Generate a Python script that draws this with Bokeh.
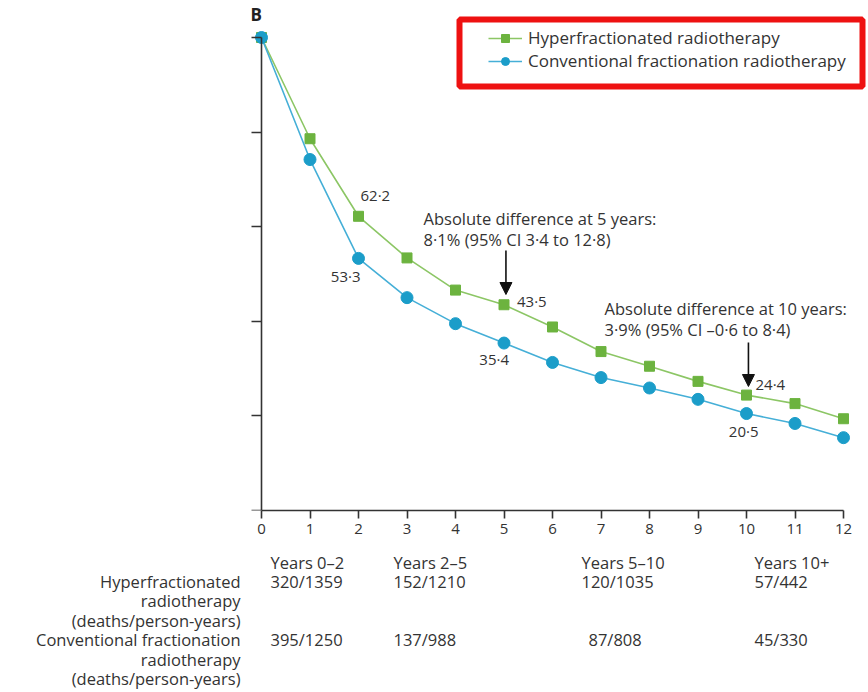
from bokeh.plotting import figure
from bokeh.models import (Range1d, Legend, LegendItem, Label, Arrow, NormalHead,
                          BoxAnnotation, ColumnDataSource, FixedTicker, CustomJSTickFormatter)
from bokeh.layouts import column
from bokeh.embed import file_html
from bokeh.resources import INLINE
from bokeh.core.properties import value

# ---------------- data ----------------
years = list(range(13))
hyper = [100, 78.6, 62.2, 53.4, 46.6, 43.5, 38.8, 33.6, 30.5, 27.3, 24.4, 22.6, 19.4]
conv = [100, 74.2, 53.3, 45.0, 39.5, 35.4, 31.3, 28.1, 25.9, 23.5, 20.5, 18.4, 15.4]
y_ticks = [0, 20, 40, 60, 80, 100]

hyper_label_years = [2, 5, 10]
hyper_label_text = ["62·2", "43·5", "24·4"]
conv_label_years = [2, 5, 10]
conv_label_text = ["53·3", "35·4", "20·5"]

series_names = ["Hyperfractionated radiotherapy", "Conventional fractionation radiotherapy"]
diff5_lines = ["Absolute difference at 5 years:", "8·1% (95% CI 3·4 to 12·8)"]
diff10_lines = ["Absolute difference at 10 years:", "3·9% (95% CI –0·6 to 8·4)"]

periods = ["Years 0–2", "Years 2–5", "Years 5–10", "Years 10+"]
hyper_counts = ["320/1359", "152/1210", "120/1035", "57/442"]
conv_counts = ["395/1250", "137/988", "87/808", "45/330"]
row_label_hyper = ["Hyperfractionated", "radiotherapy", "(deaths/person-years)"]
row_label_conv = ["Conventional fractionation", "radiotherapy", "(deaths/person-years)"]

# ---------------- layout constants ----------------
W = 868
H1, H2 = 550, 142
X0_PX, PX_PER_YEAR = 261, 48.5          # x=0 at 261px
Y0_PX, PX_PER_UNIT = 510, 4.73          # y=0 at 510px
FRAME_L, FRAME_R, FRAME_T = 24, 866, 5

def xd(px):
    return (px - X0_PX) / PX_PER_YEAR

def yd(py):
    return (Y0_PX - py) / PX_PER_UNIT

FONT = "Open Sans"
TXT = "#333333"
GREEN, GREEN_LINE = "#6cb33f", "#8cc665"
BLUE, BLUE_LINE = "#1b9dc9", "#45afd7"

p = figure(width=W, height=H1, output_backend="svg", toolbar_location=None,
           x_range=Range1d(xd(FRAME_L), xd(FRAME_R)),
           y_range=Range1d(0, yd(FRAME_T)),
           min_border_left=FRAME_L, min_border_right=W - FRAME_R,
           min_border_top=FRAME_T, min_border_bottom=H1 - Y0_PX)
p.outline_line_color = None
p.grid.visible = False
p.background_fill_color = "white"
p.border_fill_color = "white"

# axes
p.xaxis.ticker = FixedTicker(ticks=years)
p.xaxis.bounds = (0, 12)
p.xaxis.major_tick_out = 8
p.xaxis.major_tick_in = 0
p.xaxis.minor_tick_line_color = None
p.xaxis.axis_line_color = "#333333"
p.xaxis.axis_line_width = 1.6
p.xaxis.major_tick_line_color = "#333333"
p.xaxis.major_tick_line_width = 1.6
p.xaxis.major_label_text_font = FONT
p.xaxis.major_label_text_font_size = "15px"
p.xaxis.major_label_text_color = TXT
p.xaxis.major_label_standoff = 5

p.yaxis.ticker = FixedTicker(ticks=y_ticks)
p.yaxis.bounds = (0, 100)
p.yaxis.fixed_location = 0
p.yaxis.major_tick_out = 10
p.yaxis.major_tick_in = 0
p.yaxis.major_label_standoff = 0
p.yaxis.minor_tick_line_color = None
p.yaxis.axis_line_color = "#333333"
p.yaxis.axis_line_width = 1.6
p.yaxis.major_tick_line_color = "#333333"
p.yaxis.major_tick_line_width = 1.6
p.yaxis.formatter = CustomJSTickFormatter(code="return ''")

# series
hl = p.line(years, hyper, line_color=GREEN_LINE, line_width=1.6)
hs = p.scatter(years, hyper, marker="square", size=10, fill_color=GREEN, line_color=GREEN)
cl = p.line(years, conv, line_color=BLUE_LINE, line_width=1.6)
cs = p.scatter(years, conv, marker="circle", size=12, fill_color=BLUE, line_color=BLUE)

# value labels
h_src = ColumnDataSource(dict(
    x=hyper_label_years,
    y=[hyper[i] for i in hyper_label_years],
    text=hyper_label_text,
    xo=[2, 13, 9], yo=[-21, -4, -11]))
p.text(x="x", y="y", text="text", x_offset="xo", y_offset="yo", source=h_src,
       text_align="left", text_baseline="middle", text_font=value(FONT),
       text_font_size="15px", text_color=TXT)
c_src = ColumnDataSource(dict(
    x=conv_label_years,
    y=[conv[i] for i in conv_label_years],
    text=conv_label_text,
    xo=[2, 5, 12], yo=[18, 16, 17]))
p.text(x="x", y="y", text="text", x_offset="xo", y_offset="yo", source=c_src,
       text_align="right", text_baseline="middle", text_font=value(FONT),
       text_font_size="15px", text_color=TXT)

# difference annotations
for lines, left_px, top_py in [(diff5_lines, 423, 218), (diff10_lines, 604, 308)]:
    for i, t in enumerate(lines):
        p.add_layout(Label(x=xd(left_px), y=yd(top_py + 21 * i), text=t,
                           text_align="left", text_baseline="middle",
                           text_font=FONT, text_font_size="16.5px", text_color=TXT))

for yr, y0_px, y1_px in [(5, 250, 294), (10, 342, 386)]:
    p.add_layout(Arrow(x_start=yr + 0.04, y_start=yd(y0_px), x_end=yr + 0.04, y_end=yd(y1_px),
                       line_color="#111111", line_width=1.6,
                       end=NormalHead(size=12, fill_color="#111111", line_color="#111111")))

# panel letter
p.add_layout(Label(x=xd(250), y=yd(14), text="B", text_align="left", text_baseline="middle",
                   text_font=FONT, text_font_size="17px", text_font_style="bold",
                   text_color="#222222"))

# legend with red highlight box
p.add_layout(BoxAnnotation(left=xd(459), right=xd(862), top=yd(19), bottom=yd(86),
                           fill_alpha=0, line_color="#ee1111", line_alpha=1, line_width=6))
legend = Legend(items=[LegendItem(label=series_names[0], renderers=[hl, hs]),
                       LegendItem(label=series_names[1], renderers=[cl, cs])],
                location=(488 - FRAME_L, Y0_PX - 72), padding=0, spacing=0, margin=0,
                glyph_width=34, glyph_height=20, label_height=20, label_standoff=6,
                label_text_font=FONT, label_text_font_size="17px", label_text_color=TXT,
                background_fill_alpha=0, border_line_color=None)
p.add_layout(legend)

# ---------------- table below ----------------
T_TOP = H1
p2 = figure(width=W, height=H2, output_backend="svg", toolbar_location=None,
            x_range=Range1d(xd(FRAME_L), xd(FRAME_R)), y_range=Range1d(H2, 0),
            x_axis_location=None, y_axis_location=None,
            min_border_left=FRAME_L, min_border_right=W - FRAME_R,
            min_border_top=0, min_border_bottom=0)
p2.outline_line_color = None
p2.grid.visible = False

col_left_px = [270, 393, 581, 754]
conv_col_left_px = [270, 393, 588, 754]
row_y_px = [562, 581, 600, 620, 639, 659, 678]

tx, ty, tt = [], [], []
for i in range(4):
    tx += [xd(col_left_px[i]), xd(col_left_px[i]), xd(conv_col_left_px[i])]
    ty += [row_y_px[0] - T_TOP, row_y_px[1] - T_TOP, row_y_px[4] - T_TOP]
    tt += [periods[i], hyper_counts[i], conv_counts[i]]
p2.text(x=tx, y=ty, text=tt, text_align="left", text_baseline="middle",
        text_font=value(FONT), text_font_size="16.5px", text_color=TXT)

lx = [xd(240)] * 6
ly = [r - T_TOP for r in row_y_px[1:]]
p2.text(x=lx, y=ly, text=row_label_hyper + row_label_conv, text_align="right",
        text_baseline="middle", text_font=value(FONT), text_font_size="16.5px", text_color=TXT)

layout = column(p, p2, spacing=0)
open("out.html", "w").write(file_html(layout, INLINE))
